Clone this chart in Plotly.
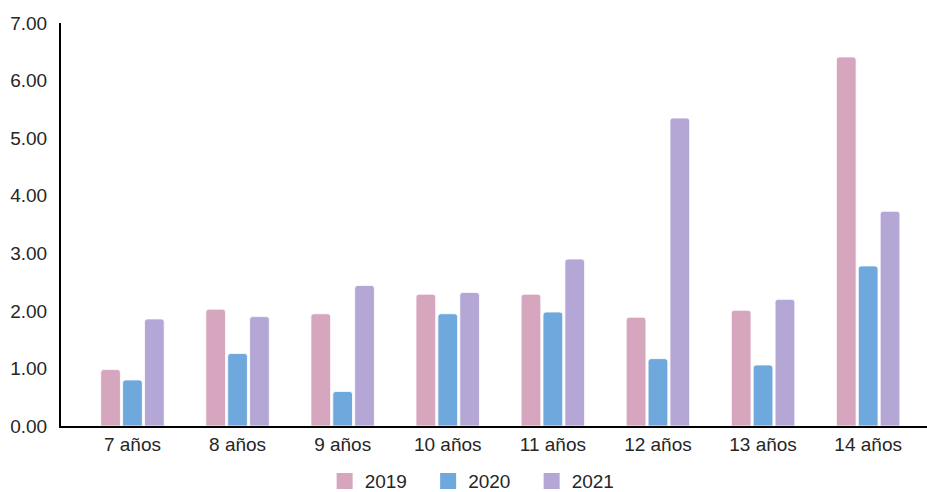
import plotly.graph_objects as go

categories = ["7 años", "8 años", "9 años", "10 años", "11 años", "12 años", "13 años", "14 años"]
series_names = ["2019", "2020", "2021"]
values_2019 = [0.98, 2.03, 1.95, 2.29, 2.29, 1.89, 2.01, 6.41]
values_2020 = [0.80, 1.26, 0.60, 1.95, 1.98, 1.17, 1.06, 2.78]
values_2021 = [1.86, 1.90, 2.44, 2.32, 2.90, 5.35, 2.20, 3.73]
colors = ["#d5a6bd", "#6fa8dc", "#b4a7d6"]
y_ticks = [0, 1, 2, 3, 4, 5, 6, 7]

fig = go.Figure()
for name, vals, col in zip(series_names, [values_2019, values_2020, values_2021], colors):
    fig.add_trace(go.Bar(
        x=categories, y=vals, name=name, showlegend=False,
        marker=dict(color=col, line=dict(color="white", width=0.8)),
        hoverinfo="x+y+name",
    ))
# legend entries with larger square swatches
for name, col in zip(series_names, colors):
    fig.add_trace(go.Scatter(
        x=[None], y=[None], name=name, mode="markers",
        marker=dict(symbol="square", size=17, color=col),
        showlegend=True,
    ))

font_family = "Liberation Sans, Arial, sans-serif"
fig.update_layout(
    width=927, height=492,
    margin=dict(l=61, r=0, t=23, b=66, autoexpand=False),
    paper_bgcolor="white", plot_bgcolor="white",
    barmode="group", bargap=0.375, bargroupgap=0.1,
    barcornerradius=3,
    font=dict(family=font_family, size=19, color="#262626"),
    xaxis=dict(
        range=[-0.68, 7.56], showgrid=False, zeroline=False,
        showline=True, linecolor="#000000", linewidth=2,
        ticks="", tickfont=dict(size=19), automargin=False,
    ),
    yaxis=dict(
        range=[0, 7], tickvals=y_ticks, tickformat=".2f",
        showgrid=False, zeroline=False,
        showline=True, linecolor="#000000", linewidth=2,
        ticks="", ticklabelstandoff=8, tickfont=dict(size=19), automargin=False,
    ),
    legend=dict(
        orientation="h", x=0.484, xanchor="center",
        yref="container", y=0.022, yanchor="middle",
        font=dict(size=19), entrywidth=58.5, entrywidthmode="pixels",
    ),
    showlegend=True,
)

fig.write_html("out.html")
